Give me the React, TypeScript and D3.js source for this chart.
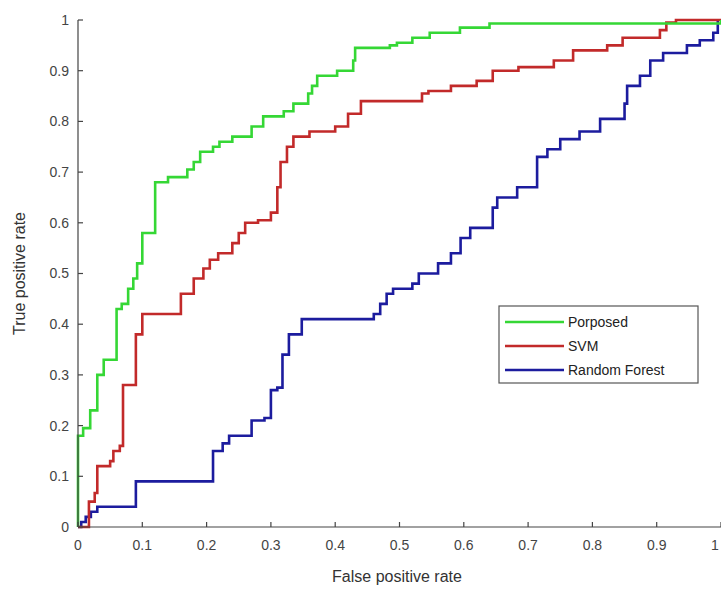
import * as d3 from "d3";

type Pt = [number, number];

// ROC step points: [false positive rate, true positive rate]
const proposed: Pt[] = [
  [0, 0], [0, 0.18], [0.008, 0.195], [0.019, 0.23], [0.03, 0.3], [0.04, 0.33],
  [0.06, 0.43], [0.068, 0.44], [0.078, 0.47], [0.086, 0.49], [0.092, 0.52],
  [0.1, 0.58], [0.12, 0.68], [0.14, 0.69], [0.17, 0.705], [0.18, 0.72],
  [0.19, 0.74], [0.21, 0.75], [0.22, 0.76], [0.24, 0.77], [0.27, 0.79],
  [0.288, 0.81], [0.32, 0.82], [0.335, 0.835], [0.358, 0.855], [0.364, 0.87],
  [0.372, 0.89], [0.403, 0.9], [0.428, 0.92], [0.431, 0.945], [0.485, 0.95],
  [0.496, 0.955], [0.52, 0.965], [0.547, 0.975], [0.594, 0.985], [0.64, 0.993],
  [1, 1],
];

const svm: Pt[] = [
  [0, 0], [0.017, 0], [0.017, 0.05], [0.026, 0.067], [0.03, 0.12], [0.05, 0.13],
  [0.055, 0.15], [0.065, 0.16], [0.07, 0.28], [0.09, 0.38], [0.1, 0.42],
  [0.16, 0.46], [0.18, 0.49], [0.195, 0.51], [0.205, 0.527], [0.218, 0.54],
  [0.24, 0.56], [0.25, 0.58], [0.26, 0.6], [0.28, 0.605], [0.3, 0.62],
  [0.31, 0.67], [0.315, 0.72], [0.325, 0.75], [0.335, 0.77], [0.36, 0.78],
  [0.4, 0.79], [0.42, 0.815], [0.44, 0.84], [0.535, 0.855], [0.545, 0.86],
  [0.58, 0.87], [0.62, 0.88], [0.645, 0.9], [0.685, 0.907], [0.74, 0.92],
  [0.77, 0.94], [0.823, 0.95], [0.847, 0.965], [0.905, 0.98], [0.915, 0.995],
  [0.93, 1], [1, 1],
];

const randomForest: Pt[] = [
  [0, 0], [0.005, 0.01], [0.012, 0.02], [0.02, 0.03], [0.03, 0.04], [0.09, 0.09],
  [0.21, 0.15], [0.225, 0.165], [0.235, 0.18], [0.27, 0.21], [0.29, 0.215],
  [0.3, 0.27], [0.31, 0.275], [0.318, 0.34], [0.328, 0.38], [0.348, 0.41],
  [0.46, 0.42], [0.47, 0.44], [0.48, 0.46], [0.49, 0.47], [0.52, 0.48],
  [0.53, 0.5], [0.56, 0.52], [0.58, 0.54], [0.595, 0.57], [0.61, 0.59],
  [0.645, 0.63], [0.652, 0.65], [0.683, 0.67], [0.714, 0.73], [0.73, 0.745],
  [0.75, 0.765], [0.78, 0.78], [0.812, 0.805], [0.85, 0.835], [0.854, 0.87],
  [0.874, 0.89], [0.89, 0.92], [0.91, 0.935], [0.947, 0.95], [0.967, 0.96],
  [0.988, 0.975], [0.995, 1],
];

const seriesNames = ["Porposed", "SVM", "Random Forest"];
const seriesColors = ["#35d735", "#c22a2a", "#1c1c9e"];
const ticks = [0, 0.1, 0.2, 0.3, 0.4, 0.5, 0.6, 0.7, 0.8, 0.9, 1];

const W = 721;
const H = 592;
const font = "'Liberation Sans', Arial, sans-serif";

export default function App() {
  const x = d3.scaleLinear().domain([0, 1]).range([78, 721]);
  const y = d3.scaleLinear().domain([0, 1]).range([527, 20]);
  const line = d3
    .line<Pt>()
    .x((d) => x(d[0]))
    .y((d) => y(d[1]))
    .curve(d3.curveStepAfter);

  const all = [proposed, svm, randomForest];
  const fmt = (v: number) => (v === 0 || v === 1 ? String(v) : v.toFixed(1));

  return (
    <svg
      width={W}
      height={H}
      style={{ position: "absolute", left: 0, top: 0, background: "#fff" }}
      fontFamily={font}
    >
      {/* curves: blue first so green/red sit on top near the corner */}
      {[2, 1, 0].map((i) => (
        <path
          key={i}
          d={line(all[i]) || ""}
          fill="none"
          stroke={seriesColors[i]}
          strokeWidth={2.6}
        />
      ))}

      {/* axes, MATLAB style ticks pointing inward */}
      <g stroke="#444" strokeWidth={1.2}>
        <line x1={x(0)} x2={x(0)} y1={y(1)} y2={y(0)} />
        <line x1={x(0)} x2={x(1)} y1={y(0)} y2={y(0)} />
        {ticks.map((t) => (
          <line key={"yt" + t} x1={x(0)} x2={x(0) + 5} y1={y(t)} y2={y(t)} />
        ))}
        {ticks.map((t) => (
          <line key={"xt" + t} x1={x(t)} x2={x(t)} y1={y(0)} y2={y(0) - 5} />
        ))}
      </g>
      <g fill="#444" fontSize={14}>
        {ticks.map((t) => (
          <text key={"yl" + t} x={x(0) - 9} y={y(t)} dy="0.35em" textAnchor="end">
            {fmt(t)}
          </text>
        ))}
        {ticks.map((t) => (
          <text
            key={"xl" + t}
            x={Math.min(x(t), W - 6)}
            y={y(0) + 23}
            textAnchor="middle"
          >
            {fmt(t)}
          </text>
        ))}
      </g>
      <text x={397} y={582} textAnchor="middle" fontSize={16} fill="#333">
        False positive rate
      </text>
      <text
        transform={`translate(25,${y(0.5)}) rotate(-90)`}
        textAnchor="middle"
        fontSize={16}
        fill="#333"
      >
        True positive rate
      </text>

      {/* legend */}
      <g>
        <rect x={499} y={306} width={199} height={77} fill="#fff" stroke="#555" strokeWidth={1.2} />
        {seriesNames.map((n, i) => (
          <g key={n} transform={`translate(0,${322 + i * 24})`}>
            <line x1={505} x2={564} y1={0} y2={0} stroke={seriesColors[i]} strokeWidth={2.6} />
            <text x={568} y={0} dy="0.35em" fontSize={14} fill="#222">
              {n}
            </text>
          </g>
        ))}
      </g>
    </svg>
  );
}
